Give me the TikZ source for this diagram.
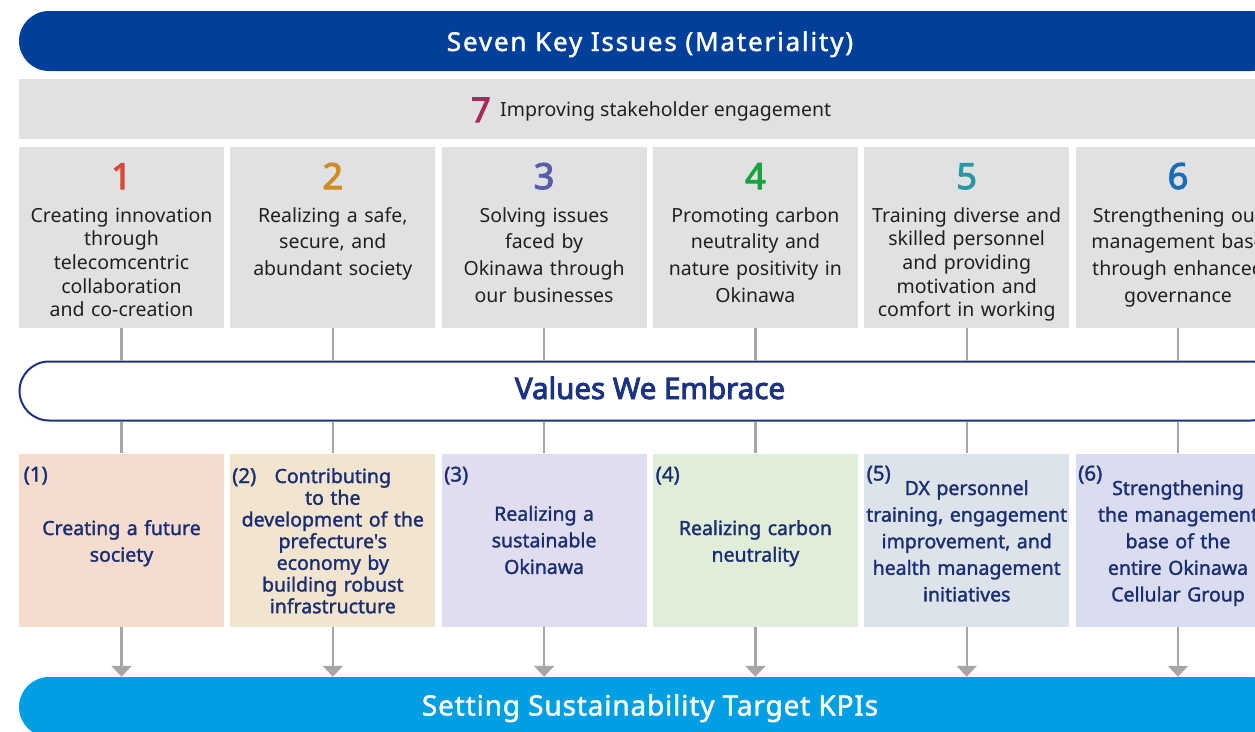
\documentclass[tikz,border=0pt]{standalone}
\usepackage{fontspec}
\setmainfont{Noto Sans}
\newfontfamily\medfont[FakeBold=1.6]{Noto Sans}
\newfontfamily\heavyfont[FakeBold=3]{Noto Sans}
\newfontfamily\titlefont[FakeBold=1.6,LetterSpace=7]{Noto Sans}
\newfontfamily\kpifont[FakeBold=1.6,LetterSpace=3]{Noto Sans}
\usetikzlibrary{shapes.misc,arrows.meta}

\definecolor{keyblue}{HTML}{00409A}
\definecolor{issuegray}{HTML}{E0E1E3}
\definecolor{ink}{HTML}{231F20}
\definecolor{numone}{HTML}{D9493A}
\definecolor{numtwo}{HTML}{D18B22}
\definecolor{numthree}{HTML}{5A5EAA}
\definecolor{numfour}{HTML}{1AA23E}
\definecolor{numfive}{HTML}{2A97A6}
\definecolor{numsix}{HTML}{1B6DB5}
\definecolor{numseven}{HTML}{A62B58}
\definecolor{valnavy}{HTML}{1C3383}
\definecolor{valink}{HTML}{1C2E72}
\definecolor{fillone}{HTML}{F4DCCF}
\definecolor{filltwo}{HTML}{F2E5D0}
\definecolor{fillthree}{HTML}{DFDDEF}
\definecolor{fillfour}{HTML}{DFEDD9}
\definecolor{fillfive}{HTML}{DCE3EA}
\definecolor{fillsix}{HTML}{D9DDEF}
\definecolor{kpiblue}{HTML}{009FE3}
\definecolor{linkgray}{HTML}{A6A6A6}

\tikzset{
  bar/.style={rounded rectangle, minimum width=1262pt, minimum height=60pt, inner sep=0pt},
  issuebox/.style={rectangle, fill=issuegray, minimum width=205pt, minimum height=181pt, inner sep=0pt},
  valuebox/.style={rectangle, minimum width=205pt, minimum height=173.5pt, inner sep=0pt},
  issuenum/.style={anchor=base, inner sep=0pt, font=\heavyfont\fontsize{36}{36}\selectfont},
  issuetext/.style={anchor=base, align=center, text width=214pt, inner sep=0pt, text=ink},
  tight/.style={font=\fontsize{19.5}{23.7}\selectfont},
  loose/.style={font=\fontsize{19.5}{26.7}\selectfont},
  valuetext/.style={anchor=base, align=center, text width=214pt, inner sep=0pt, text=valink},
  vloose/.style={font=\medfont\fontsize{19.5}{26.6}\selectfont},
  vtight/.style={font=\medfont\fontsize{19.5}{21.7}\selectfont},
  tag/.style={anchor=base west, inner sep=0pt, text=valink, font=\medfont\fontsize{20.5}{20.5}\selectfont},
  link/.style={draw=linkgray, line width=2.2pt},
  flow/.style={link, -{Triangle[width=20pt,length=11pt]}},
}

\begin{document}
\begin{tikzpicture}[x=1pt,y=-1pt]
\useasboundingbox (0,0) rectangle (1255,731);
\clip (0,0) rectangle (1255,731);

% header bar
\node[bar, fill=keyblue] (seven) at (650,41) {};
\node[anchor=base, inner sep=0pt, text=white, font=\titlefont\fontsize{26}{26}\selectfont] (seventitle) at (650,51) {Seven Key Issues (Materiality)};

% issue 7, spanning all columns
\node[rectangle, fill=issuegray, minimum width=1262pt, minimum height=60pt, inner sep=0pt] (issueseven) at (650,109) {};
\node[anchor=base west, inner sep=0pt, text=numseven, font=\heavyfont\fontsize{34}{34}\selectfont] (nseven) at (471,122) {7};
\node[anchor=base west, inner sep=0pt, text=ink, font=\fontsize{19.5}{19.5}\selectfont] (tseven) at (500,116.5) {Improving stakeholder engagement};

% issues 1-6
\node[issuebox] (i1) at (121.5,237.5) {};
\node[issuebox] (i2) at (332.8,237.5) {};
\node[issuebox] (i3) at (544.1,237.5) {};
\node[issuebox] (i4) at (755.4,237.5) {};
\node[issuebox] (i5) at (966.7,237.5) {};
\node[issuebox] (i6) at (1178,237.5) {};

\node[issuenum, text=numone]   (n1) at (121.5,189) {1};
\node[issuenum, text=numtwo]   (n2) at (332.8,189) {2};
\node[issuenum, text=numthree] (n3) at (544.1,189) {3};
\node[issuenum, text=numfour]  (n4) at (755.4,189) {4};
\node[issuenum, text=numfive]  (n5) at (966.7,189) {5};
\node[issuenum, text=numsix]   (n6) at (1178,189) {6};

\node[issuetext, tight] (t1) at (121.5,222) {Creating innovation\\through\\telecomcentric\\collaboration\\and co-creation};
\node[issuetext, loose] (t2) at (332.8,222) {Realizing a safe,\\secure, and\\abundant society};
\node[issuetext, loose] (t3) at (544.1,222) {Solving issues\\faced by\\Okinawa through\\our businesses};
\node[issuetext, loose] (t4) at (755.4,222) {Promoting carbon\\neutrality and\\nature positivity in\\Okinawa};
\node[issuetext, tight] (t5) at (966.7,222) {Training diverse and\\skilled personnel\\and providing\\motivation and\\comfort in working};
\node[issuetext, loose] (t6) at (1178,222) {Strengthening our\\management base\\through enhanced\\governance};

% values bar
\node[bar, draw=valnavy, line width=2pt, fill=white, minimum height=59pt, minimum width=1261pt] (values) at (650,391) {};
\node[anchor=base, inner sep=0pt, text=valnavy, font=\heavyfont\fontsize{29.5}{29.5}\selectfont] (valuestitle) at (650,399) {Values We Embrace};

% values 1-6
\node[valuebox, fill=fillone]   (v1) at (121.5,540.25) {};
\node[valuebox, fill=filltwo]   (v2) at (332.8,540.25) {};
\node[valuebox, fill=fillthree] (v3) at (544.1,540.25) {};
\node[valuebox, fill=fillfour]  (v4) at (755.4,540.25) {};
\node[valuebox, fill=fillfive]  (v5) at (966.7,540.25) {};
\node[valuebox, fill=fillsix]   (v6) at (1178,540.25) {};

\node[tag] (g1) at (23.5,481.5) {(1)};
\node[tag] (g2) at (232,483) {(2)};
\node[tag] (g3) at (444,481.5) {(3)};
\node[tag] (g4) at (655.5,481.5) {(4)};
\node[tag] (g5) at (866.5,480.5) {(5)};
\node[tag] (g6) at (1078,480.5) {(6)};

\node[valuetext, vloose] (w1) at (121.5,535) {Creating a future\\society};
\node[valuetext, vtight] (w2) at (332.8,483) {Contributing\\to the\\development of the\\prefecture's\\economy by\\building robust\\infrastructure};
\node[valuetext, vloose] (w3) at (544.1,520.7) {Realizing a\\sustainable\\Okinawa};
\node[valuetext, vloose] (w4) at (755.4,535) {Realizing carbon\\neutrality};
\node[valuetext, vloose] (w5) at (966.7,495) {DX personnel\\training, engagement\\improvement, and\\health management\\initiatives};
\node[valuetext, vloose] (w6) at (1178,495) {Strengthening\\the management\\base of the\\entire Okinawa\\Cellular Group};

% KPI bar
\node[bar, fill=kpiblue] (kpi) at (650,707) {};
\node[anchor=base, inner sep=0pt, text=white, font=\kpifont\fontsize{28}{28}\selectfont] (kpititle) at (650,715.5) {Setting Sustainability Target KPIs};

% connectors
\foreach \k in {1,...,6}{
  \draw[link] (i\k.south) -- (i\k.south |- values.north);
  \draw[link] (values.south -| v\k.north) -- (v\k.north);
  \draw[flow] (v\k.south) -- (v\k.south |- kpi.north);
}
\end{tikzpicture}
\end{document}
